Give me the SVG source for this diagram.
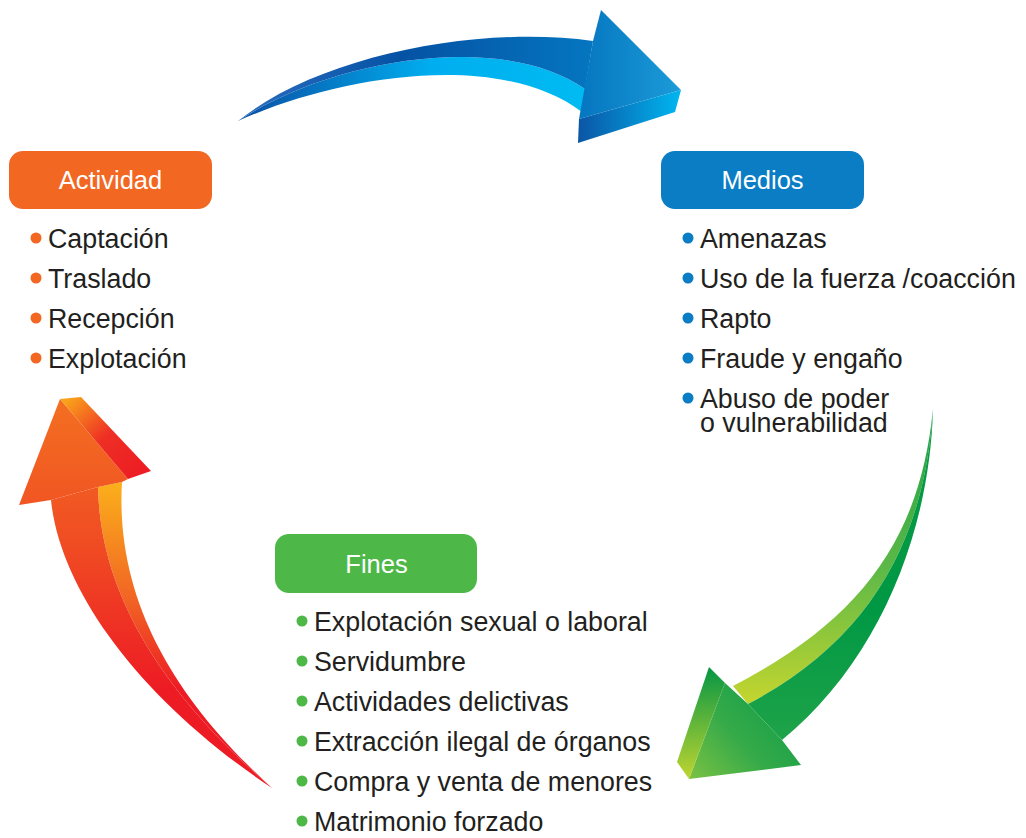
<svg xmlns="http://www.w3.org/2000/svg" width="1026" height="838" viewBox="0 0 1026 838">
<defs>
<style>
.hd{font-family:"Liberation Sans",Arial,sans-serif;font-size:25.5px;fill:#ffffff;text-anchor:middle}
.it{font-family:"Liberation Sans",Arial,sans-serif;font-size:26.8px;fill:#231f20}
.bo{fill:#f26722}.bb{fill:#0a7dc5}.bg{fill:#4db848}
</style>
<linearGradient id="bTop" gradientUnits="userSpaceOnUse" x1="240" y1="0" x2="600" y2="0"><stop offset="0" stop-color="#2a6cc0"/><stop offset="0.45" stop-color="#0552a4"/><stop offset="1" stop-color="#0577c1"/></linearGradient>
<linearGradient id="bUnd" gradientUnits="userSpaceOnUse" x1="240" y1="0" x2="590" y2="0"><stop offset="0" stop-color="#0a4fa3"/><stop offset="0.55" stop-color="#00aeef"/><stop offset="1" stop-color="#00bbf2"/></linearGradient>
<linearGradient id="bHead" gradientUnits="userSpaceOnUse" x1="580" y1="0" x2="681" y2="0"><stop offset="0" stop-color="#0576c0"/><stop offset="1" stop-color="#1c9bd8"/></linearGradient>
<linearGradient id="bSide" gradientUnits="userSpaceOnUse" x1="578" y1="0" x2="681" y2="0"><stop offset="0" stop-color="#0b55a5"/><stop offset="1" stop-color="#00b7f0"/></linearGradient>
<linearGradient id="gTop" gradientUnits="userSpaceOnUse" x1="0" y1="409" x2="0" y2="740"><stop offset="0" stop-color="#0b9a45"/><stop offset="0.6" stop-color="#009844"/><stop offset="1" stop-color="#1fa349"/></linearGradient>
<linearGradient id="gUnd" gradientUnits="userSpaceOnUse" x1="0" y1="409" x2="0" y2="700"><stop offset="0" stop-color="#1a9f45"/><stop offset="0.55" stop-color="#5db947"/><stop offset="1" stop-color="#c2d52f"/></linearGradient>
<linearGradient id="gHead" gradientUnits="userSpaceOnUse" x1="785" y1="700" x2="695" y2="780"><stop offset="0" stop-color="#159f48"/><stop offset="0.5" stop-color="#35aa49"/><stop offset="1" stop-color="#76c043"/></linearGradient>
<linearGradient id="gSide" gradientUnits="userSpaceOnUse" x1="0" y1="667" x2="0" y2="779"><stop offset="0" stop-color="#059644"/><stop offset="1" stop-color="#bfd530"/></linearGradient>
<linearGradient id="oTop" gradientUnits="userSpaceOnUse" x1="0" y1="400" x2="0" y2="760"><stop offset="0" stop-color="#f36f21"/><stop offset="0.4" stop-color="#f04c23"/><stop offset="0.8" stop-color="#ed1c24"/></linearGradient>
<linearGradient id="oUnd" gradientUnits="userSpaceOnUse" x1="0" y1="482" x2="0" y2="740"><stop offset="0" stop-color="#fbb01a"/><stop offset="0.45" stop-color="#f16524"/><stop offset="0.8" stop-color="#ed1c24"/></linearGradient>
<linearGradient id="oSide" gradientUnits="userSpaceOnUse" x1="70" y1="398" x2="140" y2="476"><stop offset="0" stop-color="#f9a11b"/><stop offset="0.5" stop-color="#ee2f24"/><stop offset="1" stop-color="#ed1c24"/></linearGradient>
</defs>
<rect width="1026" height="838" fill="#ffffff"/>
<g id="connectors">
<g id="arrow-blue">
<path d="M238,121 C330,60 500,30 585,89 L582,112 C500,50 340,75 238,121 Z" fill="url(#bUnd)"/>
<path d="M238,121 C320,55 480,25 593,41 L585,89 C500,30 330,60 238,121 Z" fill="url(#bTop)"/>
<polygon points="593,41 601,10 681,90 579,119" fill="url(#bHead)"/>
<polygon points="579,119 681,90 675,112 578,143" fill="url(#bSide)"/>
</g>
<g id="arrow-green">
<path d="M933,409 C920,540 860,620 733,686 L748,704 C870,640 925,540 933,409 Z" fill="url(#gUnd)"/>
<path d="M933,409 C925,540 870,640 748,704 L782,740 C880,660 930,530 933,409 Z" fill="url(#gTop)"/>
<polygon points="725,683 748,704 782,740 801,765 689,779" fill="url(#gHead)"/>
<polygon points="709,667 725,683 689,779 677,762" fill="url(#gSide)"/>
</g>
<g id="arrow-orange">
<path d="M98,487 L122,482 C115,600 175,700 272,788 C170,700 100,600 98,487 Z" fill="url(#oUnd)"/>
<path d="M51,500 L98,487 C100,600 170,700 272,788 C140,700 60,590 51,500 Z" fill="url(#oTop)"/>
<polygon points="60,399 128,479 122,482 98,487 51,500 19,505" fill="url(#oTop)"/>
<polygon points="60,399 81,397 151,471 128,479" fill="url(#oSide)"/>
</g>
</g>
<g id="actividad">
<rect x="9" y="151" width="203" height="58" rx="14" class="bo"/>
<text x="110.5" y="189" class="hd">Actividad</text>
<circle cx="36" cy="238" r="5.5" class="bo"/><text x="48" y="248" class="it">Captación</text>
<circle cx="36" cy="278" r="5.5" class="bo"/><text x="48" y="288" class="it">Traslado</text>
<circle cx="36" cy="318" r="5.5" class="bo"/><text x="48" y="328" class="it">Recepción</text>
<circle cx="36" cy="358" r="5.5" class="bo"/><text x="48" y="368" class="it">Explotación</text>
</g>
<g id="medios">
<rect x="661" y="151" width="203" height="58" rx="14" class="bb"/>
<text x="762.5" y="189" class="hd">Medios</text>
<circle cx="688" cy="238" r="5.5" class="bb"/><text x="700" y="248" class="it">Amenazas</text>
<circle cx="688" cy="278" r="5.5" class="bb"/><text x="700" y="288" class="it">Uso de la fuerza /coacción</text>
<circle cx="688" cy="318" r="5.5" class="bb"/><text x="700" y="328" class="it">Rapto</text>
<circle cx="688" cy="358" r="5.5" class="bb"/><text x="700" y="368" class="it">Fraude y engaño</text>
<circle cx="688" cy="398" r="5.5" class="bb"/><text x="700" y="408" class="it"><tspan x="700" y="408">Abuso de poder</tspan><tspan x="700" y="432">o vulnerabilidad</tspan></text>
</g>
<g id="fines">
<rect x="275" y="534" width="202" height="59" rx="14" class="bg"/>
<text x="376.5" y="573" class="hd">Fines</text>
<circle cx="302" cy="621" r="5.5" class="bg"/><text x="314" y="631" class="it">Explotación sexual o laboral</text>
<circle cx="302" cy="661" r="5.5" class="bg"/><text x="314" y="671" class="it">Servidumbre</text>
<circle cx="302" cy="701" r="5.5" class="bg"/><text x="314" y="711" class="it">Actividades delictivas</text>
<circle cx="302" cy="741" r="5.5" class="bg"/><text x="314" y="751" class="it">Extracción ilegal de órganos</text>
<circle cx="302" cy="781" r="5.5" class="bg"/><text x="314" y="791" class="it">Compra y venta de menores</text>
<circle cx="302" cy="821" r="5.5" class="bg"/><text x="314" y="831" class="it">Matrimonio forzado</text>
</g>
</svg>
